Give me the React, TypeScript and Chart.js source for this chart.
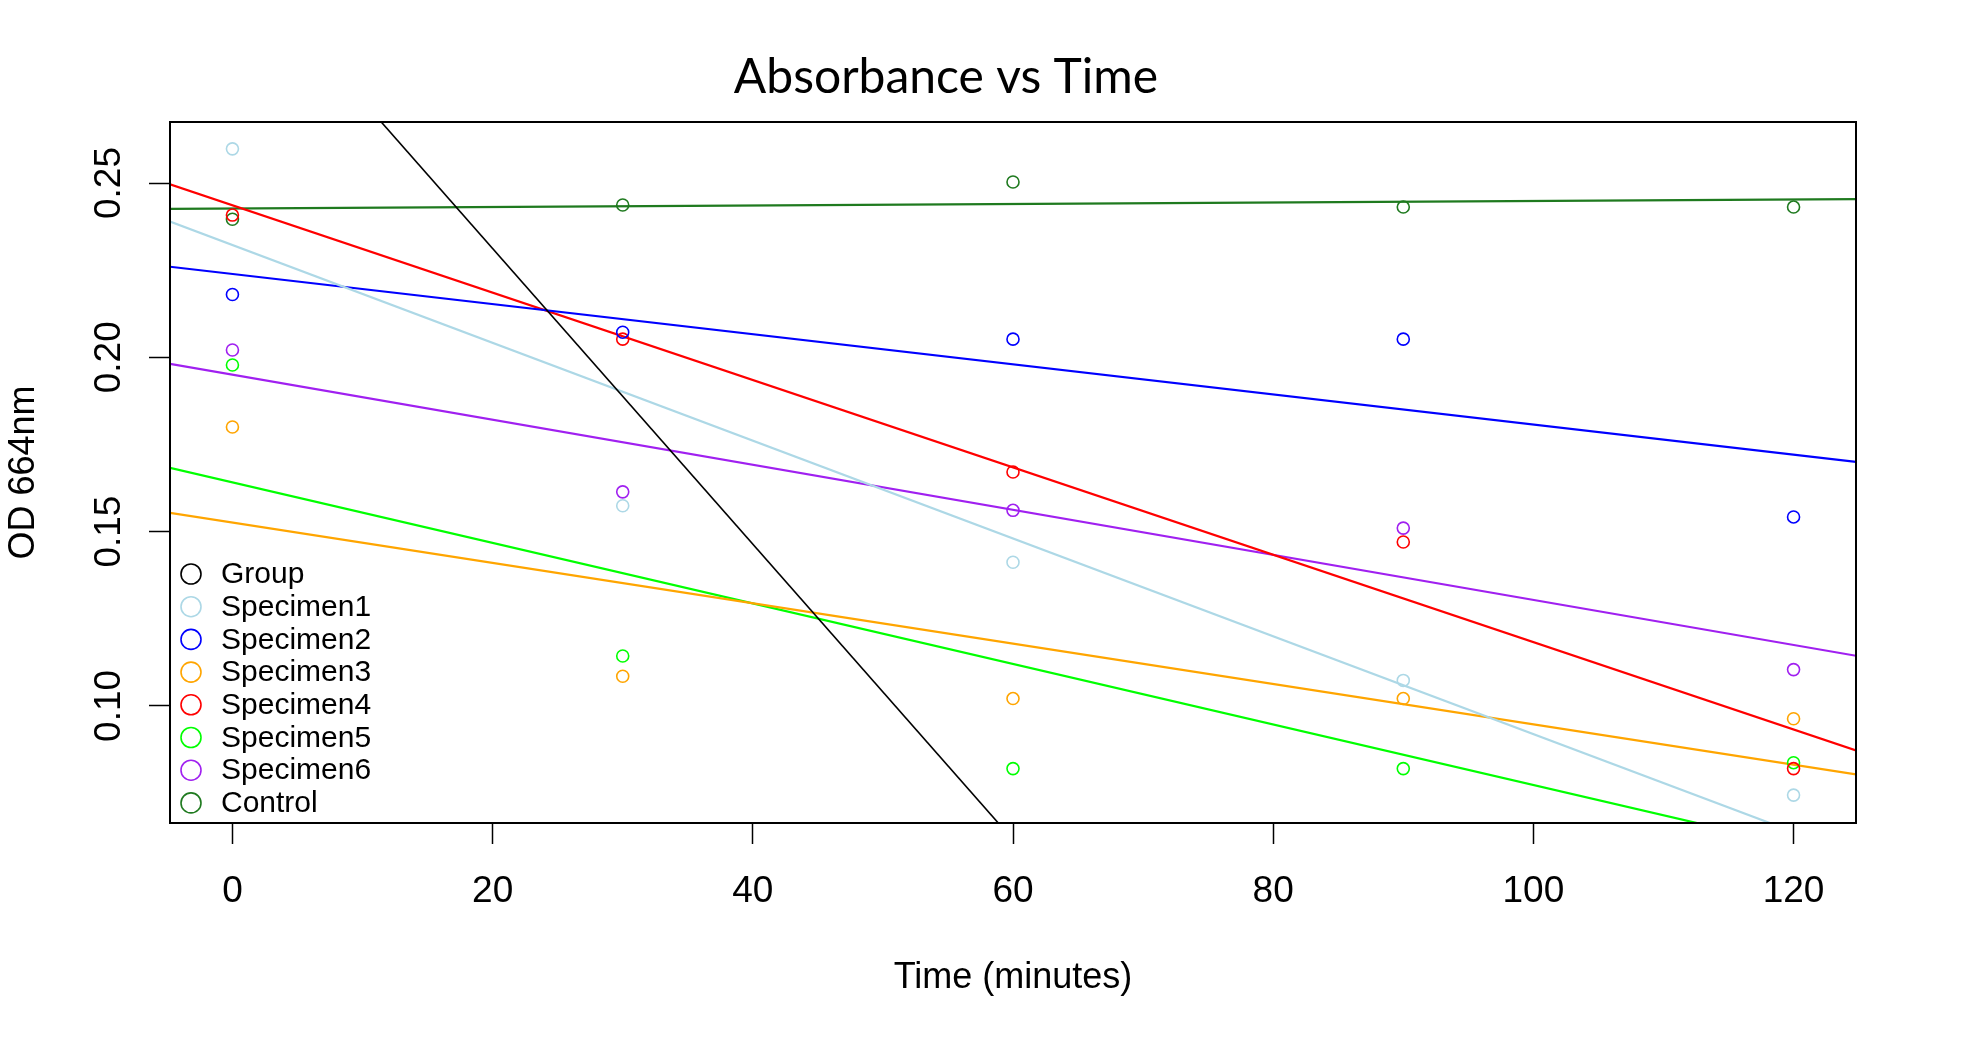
import React, { useEffect, useRef } from 'react';
import { Chart, registerables } from 'chart.js';

Chart.register(...registerables);

// ---- data ----
const seriesNames = ['Group', 'Specimen1', 'Specimen2', 'Specimen3', 'Specimen4', 'Specimen5', 'Specimen6', 'Control'];
const seriesColors = ['#000000', '#ADD8E6', '#0000FF', '#FFA500', '#FF0000', '#00FF00', '#A020F0', '#1f7a1f'];

const times = [0, 30, 60, 90, 120];
const groupValues: number[] = [];
const specimen1 = [0.2598, 0.1574, 0.1412, 0.1073, 0.0744];
const specimen2 = [0.218, 0.2072, 0.2052, 0.2052, 0.1542];
const specimen3 = [0.18, 0.1085, 0.1021, 0.1021, 0.0963];
const specimen4 = [0.2408, 0.2052, 0.1671, 0.147, 0.082];
const specimen5 = [0.1978, 0.1143, 0.082, 0.082, 0.0837];
const specimen6 = [0.2021, 0.1614, 0.1561, 0.151, 0.1104];
const control = [0.2396, 0.2437, 0.2503, 0.2431, 0.2431];

// fitted lines (abline): intercept and slope
const fitIntercepts = [0.316, 0.2322, 0.2239, 0.1526, 0.2436, 0.1641, 0.195, 0.2427];
const fitSlopes = [-0.00424, -0.001403, -0.000432, -0.000579, -0.001253, -0.000868, -0.000646, 0.0000213];

const xTicks = [0, 20, 40, 60, 80, 100, 120];
const xTickLabels = ['0', '20', '40', '60', '80', '100', '120'];
const yTicks = [0.1, 0.15, 0.2, 0.25];
const yTickLabels = ['0.10', '0.15', '0.20', '0.25'];
const xMin = -4.8;
const xMax = 124.8;
const yMin = 0.0664;
const yMax = 0.2675;

const titleText = 'Absorbance vs Time';
const xTitle = 'Time (minutes)';
const yTitle = 'OD 664nm';

const seriesValues = [groupValues, specimen1, specimen2, specimen3, specimen4, specimen5, specimen6, control];

const SANS = '"Liberation Sans", Arial, sans-serif';

export default function App() {
  const ref = useRef<HTMLCanvasElement | null>(null);

  useEffect(() => {
    if (!ref.current) return;

    const datasets: any[] = [];
    seriesNames.forEach((name, i) => {
      const vals = seriesValues[i];
      if (vals.length) {
        datasets.push({
          label: name,
          data: vals.map((v, k) => ({ x: times[k], y: v })),
          showLine: false,
          pointRadius: 6,
          pointBorderWidth: 1.6,
          pointBorderColor: seriesColors[i],
          pointBackgroundColor: 'rgba(0,0,0,0)',
          borderColor: seriesColors[i],
          backgroundColor: 'rgba(0,0,0,0)',
          pointHoverRadius: 6,
        });
      }
    });
    seriesNames.forEach((name, i) => {
      const a = fitIntercepts[i];
      const b = fitSlopes[i];
      datasets.push({
        label: name + ' fit',
        data: [
          { x: xMin, y: a + b * xMin },
          { x: xMax, y: a + b * xMax },
        ],
        showLine: true,
        borderColor: seriesColors[i],
        borderWidth: i === 0 ? 1.6 : 2.2,
        pointRadius: 0,
        pointHoverRadius: 0,
        tension: 0,
        fill: false,
        clip: 0,
      });
    });

    const decor = {
      id: 'decor',
      beforeDraw(chart: any) {
        const c = chart.ctx;
        c.save();
        c.fillStyle = '#ffffff';
        c.fillRect(0, 0, chart.width, chart.height);
        c.restore();
      },
      afterDraw(chart: any) {
        const c = chart.ctx;
        const ca = chart.chartArea;
        c.save();
        // box
        c.strokeStyle = '#000';
        c.lineWidth = 2;
        c.strokeRect(ca.left, ca.top, ca.right - ca.left, ca.bottom - ca.top);
        // title
        c.fillStyle = '#000';
        c.font = '48px Lato, "Open Sans", sans-serif';
        c.textAlign = 'center';
        c.textBaseline = 'alphabetic';
        c.fillText(titleText, 946, 93);
        // legend
        c.font = '30px ' + SANS;
        c.textAlign = 'left';
        c.textBaseline = 'middle';
        seriesNames.forEach((name, i) => {
          const y = 574 + i * 32.7;
          c.beginPath();
          c.strokeStyle = seriesColors[i];
          c.lineWidth = 1.6;
          c.arc(191, y, 10, 0, Math.PI * 2);
          c.stroke();
          c.fillStyle = '#000';
          c.fillText(name, 221, y + 1);
        });
        c.restore();
      },
    };

    const chart = new Chart(ref.current, {
      type: 'scatter',
      data: { datasets },
      options: {
        responsive: false,
        animation: false,
        events: [],
        layout: { padding: { top: 122, right: 112, left: 0, bottom: 0 } },
        plugins: {
          legend: { display: false },
          tooltip: { enabled: false },
          title: { display: false },
        },
        scales: {
          x: {
            type: 'linear',
            position: 'bottom',
            min: xMin,
            max: xMax,
            afterBuildTicks: (s: any) => {
              s.ticks = xTicks.map((v) => ({ value: v }));
            },
            afterFit: (s: any) => {
              s.height = 228;
            },
            ticks: {
              autoSkip: false,
              maxRotation: 0,
              minRotation: 0,
              padding: 26,
              color: '#000',
              font: { size: 37, family: SANS },
              callback: (v: any) => {
                const k = xTicks.indexOf(Number(v));
                return k >= 0 ? xTickLabels[k] : '';
              },
            },
            grid: { drawOnChartArea: false, drawTicks: true, tickLength: 21, tickColor: '#000', tickWidth: 1.5 },
            border: { display: false },
            title: {
              display: true,
              text: xTitle,
              color: '#000',
              font: { size: 36, family: SANS },
              padding: { top: 0, bottom: 51 },
            },
          },
          y: {
            type: 'linear',
            position: 'left',
            min: yMin,
            max: yMax,
            afterBuildTicks: (s: any) => {
              s.ticks = yTicks.map((v) => ({ value: v }));
            },
            afterFit: (s: any) => {
              s.width = 170;
            },
            ticks: {
              autoSkip: false,
              minRotation: 90,
              maxRotation: 90,
              crossAlign: 'center',
              padding: 3,
              color: '#000',
              font: { size: 37, family: SANS },
              callback: (v: any) => {
                const k = yTicks.findIndex((t) => Math.abs(t - Number(v)) < 1e-9);
                return k >= 0 ? yTickLabels[k] : '';
              },
            },
            grid: { drawOnChartArea: false, drawTicks: true, tickLength: 21, tickColor: '#000', tickWidth: 1.5 },
            border: { display: false },
            title: {
              display: true,
              text: yTitle,
              color: '#000',
              font: { size: 36, family: SANS },
              padding: { top: 2, bottom: 0 },
            },
          },
        },
      } as any,
      plugins: [decor],
    });

    return () => {
      chart.destroy();
    };
  }, []);

  return (
    <div style={{ position: 'absolute', left: 0, top: 0, width: 1968, height: 1051, background: '#fff' }}>
      <canvas ref={ref} width={1968} height={1051} style={{ display: 'block' }} />
    </div>
  );
}
